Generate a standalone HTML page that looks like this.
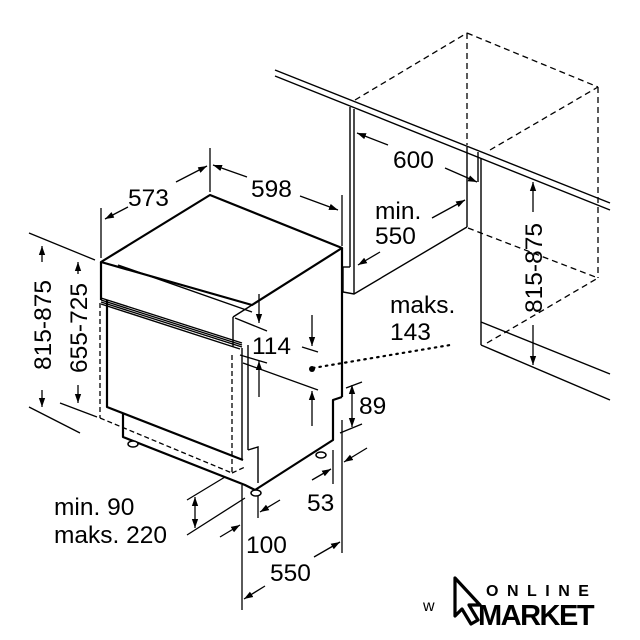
<!DOCTYPE html>
<html><head><meta charset="utf-8"><style>
html,body{margin:0;padding:0;background:#fff;}
svg{display:block}
text{font-family:"Liberation Sans",sans-serif;fill:#000}
</style></head><body>
<svg width="640" height="640" viewBox="0 0 640 640" xmlns="http://www.w3.org/2000/svg">
<defs>
<marker id="a" viewBox="0 0 10 10" refX="10" refY="5" markerWidth="9" markerHeight="9" orient="auto-start-reverse" markerUnits="userSpaceOnUse"><path d="M0,1.5 L10,5 L0,8.5 z" fill="#000"/></marker>
</defs>
<g fill="none" stroke="#000" stroke-width="1.4">
<line x1="275" y1="70" x2="610" y2="203"/>
<line x1="275" y1="76" x2="610" y2="210"/>
<line x1="350" y1="107" x2="350" y2="267"/>
<line x1="354" y1="109" x2="354" y2="294"/>
<polyline points="343,267 350,267"/>
<polyline points="343,267 343,292 354,294 467,227"/>
<line x1="467" y1="147" x2="467" y2="227"/>
<line x1="478" y1="152" x2="478" y2="182"/>
<line x1="481" y1="158" x2="481" y2="322"/>
<line x1="481" y1="322" x2="610" y2="374"/>
<line x1="481" y1="322" x2="481" y2="345"/>
<line x1="481" y1="345" x2="610" y2="400"/>
</g>
<g fill="none" stroke="#000" stroke-width="1.3" stroke-dasharray="6,4">
<line x1="355" y1="100" x2="467" y2="33"/>
<line x1="467" y1="33" x2="467" y2="145"/>
<line x1="467" y1="33" x2="598" y2="87"/>
<line x1="598" y1="87" x2="598" y2="278"/>
<line x1="490" y1="150" x2="598" y2="87"/>
<line x1="468" y1="228" x2="598" y2="278"/>
<line x1="487" y1="343" x2="598" y2="278"/>
</g>
<g fill="none" stroke="#000" stroke-width="2.2" stroke-linejoin="round">
<polygon points="101,262 210,195 342,248 252,305"/>
<line x1="101" y1="262" x2="101" y2="300"/>
<line x1="342" y1="248" x2="342" y2="397"/>
<polyline points="342,397 333,400 333,440 255,490 245,485 123,437 123,413"/>
<polyline points="107,300 107,407 243,460"/>
</g>
<g fill="none" stroke="#000" stroke-width="1.4">
<line x1="118" y1="265" x2="252" y2="312"/>
<line x1="233" y1="317" x2="252" y2="305"/>
<line x1="233" y1="317" x2="233" y2="347"/>
<line x1="242" y1="348" x2="242" y2="460"/>
<line x1="248" y1="345" x2="248" y2="450"/>
<polyline points="248,450 258,447 258,483"/>
<line x1="101" y1="298" x2="242" y2="343"/>
<line x1="101" y1="300" x2="242" y2="345"/>
<line x1="101" y1="302" x2="242" y2="347"/>
<line x1="101" y1="304" x2="240" y2="349"/>
</g>
<g fill="none" stroke="#000" stroke-width="1.3" stroke-dasharray="5,3">
<line x1="100" y1="303" x2="100" y2="418"/>
<line x1="100" y1="418" x2="232" y2="473"/>
<line x1="232" y1="355" x2="232" y2="473"/>
<line x1="232" y1="473" x2="245" y2="467"/>
</g>
<g fill="#fff" stroke="#000" stroke-width="1.5">
<ellipse cx="133" cy="444" rx="5" ry="3"/>
<ellipse cx="256" cy="493" rx="5" ry="3"/>
<ellipse cx="321" cy="455" rx="5" ry="3"/>
</g>
<g fill="none" stroke="#000" stroke-width="1.3">
<line x1="101" y1="208" x2="101" y2="258"/>
<line x1="210" y1="148" x2="210" y2="192"/>
<line x1="342" y1="195" x2="342" y2="246"/>
<line x1="105" y1="219" x2="128" y2="207" marker-start="url(#a)"/>
<line x1="176" y1="182" x2="207" y2="166" marker-end="url(#a)"/>
<line x1="213" y1="165" x2="247" y2="177" marker-start="url(#a)"/>
<line x1="300" y1="196" x2="338" y2="210" marker-end="url(#a)"/>
<line x1="29" y1="233" x2="95" y2="260"/>
<line x1="29" y1="407" x2="80" y2="433"/>
<line x1="60" y1="403" x2="97" y2="417"/>
<line x1="42" y1="262" x2="42" y2="246" marker-end="url(#a)"/>
<line x1="42" y1="390" x2="42" y2="407" marker-end="url(#a)"/>
<line x1="78" y1="274" x2="78" y2="262" marker-end="url(#a)"/>
<line x1="78" y1="385" x2="78" y2="403" marker-end="url(#a)"/>
<line x1="388" y1="145" x2="357" y2="133" marker-end="url(#a)"/>
<line x1="445" y1="168" x2="477" y2="182" marker-end="url(#a)"/>
<line x1="432" y1="218" x2="465" y2="200" marker-end="url(#a)"/>
<line x1="380" y1="252" x2="358" y2="265" marker-end="url(#a)"/>
<line x1="533" y1="212" x2="533" y2="182" marker-end="url(#a)"/>
<line x1="533" y1="325" x2="533" y2="365" marker-end="url(#a)"/>
<line x1="259" y1="294" x2="259" y2="323" marker-end="url(#a)"/>
<line x1="259" y1="397" x2="259" y2="361" marker-end="url(#a)"/>
<line x1="235" y1="318" x2="267" y2="331"/>
<line x1="240" y1="355" x2="267" y2="363"/>
<line x1="312" y1="315" x2="312" y2="346" marker-end="url(#a)"/>
<line x1="312" y1="426" x2="312" y2="391" marker-end="url(#a)"/>
<line x1="302" y1="347" x2="318" y2="352"/>
<line x1="243" y1="363" x2="318" y2="390"/>
<line x1="346" y1="388" x2="362" y2="382"/>
<line x1="340" y1="433" x2="362" y2="424"/>
<line x1="352" y1="405" x2="352" y2="385" marker-end="url(#a)"/>
<line x1="352" y1="405" x2="352" y2="427" marker-end="url(#a)"/>
<line x1="333" y1="450" x2="333" y2="484"/>
<line x1="342" y1="420" x2="342" y2="553"/>
<line x1="312" y1="480" x2="331" y2="469" marker-end="url(#a)"/>
<line x1="367" y1="448" x2="344" y2="462" marker-end="url(#a)"/>
<line x1="242" y1="485" x2="242" y2="610"/>
<line x1="258" y1="496" x2="258" y2="518"/>
<line x1="280" y1="500" x2="260" y2="512" marker-end="url(#a)"/>
<line x1="220" y1="537" x2="240" y2="525" marker-end="url(#a)"/>
<line x1="265" y1="586" x2="244" y2="599" marker-end="url(#a)"/>
<line x1="314" y1="557" x2="340" y2="542" marker-end="url(#a)"/>
<line x1="187" y1="500" x2="225" y2="477"/>
<line x1="187" y1="535" x2="245" y2="498"/>
<line x1="195" y1="512" x2="195" y2="497" marker-end="url(#a)"/>
<line x1="195" y1="512" x2="195" y2="528" marker-end="url(#a)"/>
</g>
<line x1="313" y1="368" x2="450" y2="345" stroke="#000" stroke-width="2.2" stroke-dasharray="1.5,5" stroke-linecap="round"/>
<circle cx="312" cy="369" r="3" fill="#000"/>
<g font-size="24.5">
<text x="128" y="206">573</text>
<text x="251" y="197">598</text>
<text x="393" y="168">600</text>
<text x="375" y="219">min.</text>
<text x="375" y="244">550</text>
<text x="390" y="313">maks.</text>
<text x="390" y="340">143</text>
<text x="252" y="354">114</text>
<text x="359" y="414">89</text>
<text x="307" y="511">53</text>
<text x="246" y="553">100</text>
<text x="270" y="581">550</text>
<text x="54" y="515">min. 90</text>
<text x="54" y="543">maks. 220</text>
<text transform="translate(51,325) rotate(-90)" text-anchor="middle">815-875</text>
<text transform="translate(87,328) rotate(-90)" text-anchor="middle">655-725</text>
<text transform="translate(542,268) rotate(-90)" text-anchor="middle">815-875</text>
</g>
<text x="423" y="611" font-size="16">w</text>
<path d="M455,578 L480,605 L469,605 L478,620 L471,624 L462,609 L455,616 Z" fill="none" stroke="#000" stroke-width="3.2" stroke-linejoin="round"/>
<text x="486" y="596" font-size="16" font-weight="bold" letter-spacing="8.5">ONLINE</text>
<text x="478" y="625" font-size="29" font-weight="bold" letter-spacing="-1.5">MARKET</text>
</svg>
</body></html>
